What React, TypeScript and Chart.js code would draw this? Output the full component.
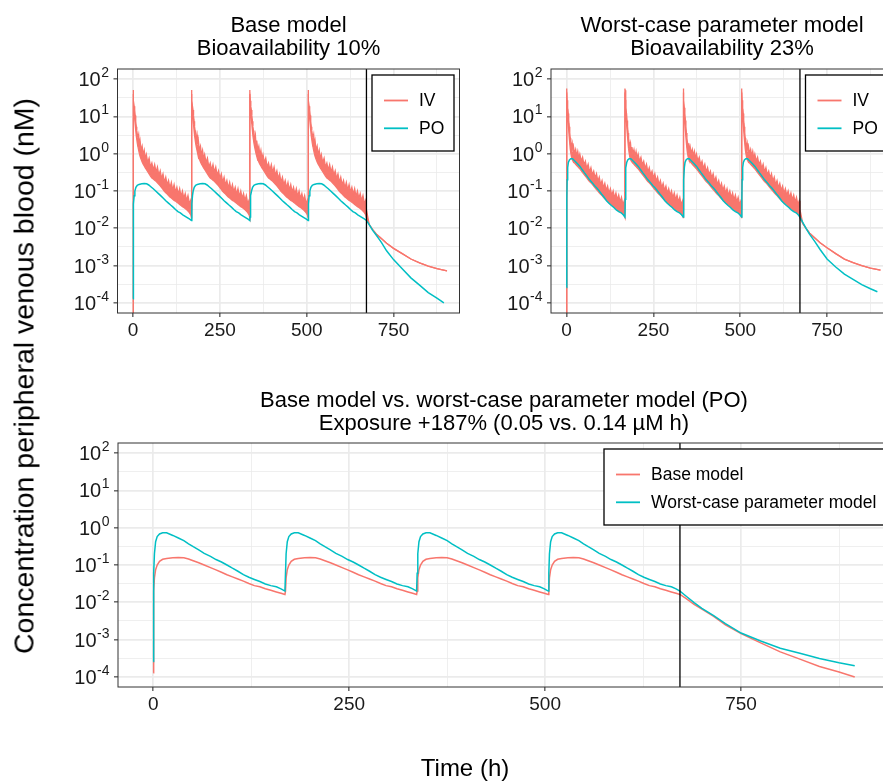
import React, { useEffect, useRef } from "react";
import { Chart, registerables } from "chart.js";

Chart.register(...registerables);

const FONT = '"Liberation Sans", Arial, Helvetica, sans-serif';
const IV_COLOR = "#F8766D";
const PO_COLOR = "#00BFC4";
const GRID_COLOR = "#EBEBEB";

// ---------------- data ----------------
const doseTimes = [0, 168, 336, 504];
const stopTime = 672;
const xMajorTicks = [0, 250, 500, 750];
const xMinorTicks = [125, 375, 625, 875];
const yMajorExponents = [-4, -3, -2, -1, 0, 1, 2];
const yMinorTicks = [0.000316, 0.00316, 0.0316, 0.316, 3.16, 31.6];

// PO (oral) profiles: first-dose start, then one dosing interval (hours after dose)
const poFirstHours = [0, 0.3];
const poBaseFirst = [0.00013, 0.004];
const poWorstFirst = [0.00026, 0.01];
const poWeekHours = [0.7, 1.5, 3, 5, 8, 12, 17, 25, 32, 39, 45, 51, 58, 65, 73, 80, 87, 94, 101, 108, 115, 122, 129, 136, 143, 150, 157, 163, 168];
const poBaseWeek = [0.02, 0.045, 0.075, 0.1, 0.125, 0.142, 0.15, 0.156, 0.158, 0.156, 0.145, 0.13, 0.115, 0.1, 0.085, 0.074, 0.064, 0.055, 0.048, 0.042, 0.037, 0.032, 0.028, 0.026, 0.023, 0.021, 0.019, 0.0175, 0.0162];
const poWorstWeek = [0.06, 0.2, 0.42, 0.58, 0.68, 0.73, 0.73, 0.62, 0.53, 0.45, 0.37, 0.31, 0.255, 0.205, 0.17, 0.14, 0.12, 0.1, 0.082, 0.068, 0.055, 0.047, 0.041, 0.036, 0.031, 0.028, 0.026, 0.023, 0.02];
const poTailHours = [680, 690, 700, 715, 730, 750, 775, 800, 825, 850, 875, 895];
const poBaseTail = [0.0125, 0.0088, 0.0066, 0.0042, 0.0025, 0.00145, 0.00082, 0.00047, 0.0003, 0.00019, 0.000135, 0.0001];
const poWorstTail = [0.0145, 0.0098, 0.0069, 0.0044, 0.0027, 0.0015, 0.00092, 0.00059, 0.00043, 0.00031, 0.00024, 0.0002];

// IV profiles: band (upper / lower edge) within one dosing interval
const ivFirstHours = [0];
const ivFirst = [0.00001];
const ivWeekHours = [0, 0.5, 1.5, 3, 4.5, 6, 7.5, 9, 10.5, 12, 14, 16, 18, 20, 23, 26, 29, 32, 35, 38, 42, 46, 50, 54, 58, 62, 66, 70, 74, 78, 82, 86, 90, 94, 98, 102, 106, 110, 114, 118, 122, 126, 130, 134, 138, 142, 146, 150, 154, 158, 162, 166, 167.9];
const ivBaseUpper = [51, 47, 26.3, 18.6, 14.8, 10.5, 7.41, 5.25, 4.17, 3.31,
  2.63, 3.24, 1.74, 2.24, 1.23, 1.585, 0.912, 1.23, 0.724, 0.955,
  0.575, 0.759, 0.437, 0.562, 0.363, 0.513, 0.316, 0.437, 0.263, 0.347,
  0.214, 0.288, 0.17, 0.234, 0.145, 0.191, 0.12, 0.17, 0.105, 0.148,
  0.0933, 0.126, 0.0813, 0.115, 0.0708, 0.1, 0.0631, 0.0851, 0.055, 0.0759,
  0.0457, 0.0575, 0.0316];
const ivBaseLower = [39.8, 26.9, 15.1, 10.7, 8.51, 6.03, 4.27, 3.02, 2.4, 1.91,
  1.51, 1.23, 1.0, 0.851, 0.708, 0.603, 0.525, 0.468, 0.417, 0.38,
  0.331, 0.288, 0.251, 0.224, 0.209, 0.195, 0.182, 0.166, 0.151, 0.138,
  0.123, 0.11, 0.0977, 0.0891, 0.0832, 0.0759, 0.0692, 0.0646, 0.0603, 0.0562,
  0.0537, 0.0501, 0.0468, 0.0437, 0.0407, 0.038, 0.0363, 0.0339, 0.0316, 0.0288,
  0.0263, 0.0229, 0.0191];
const ivWorstUpper = [56, 50, 27, 17, 12, 7.8, 5.3, 3.6, 2.6, 2.0,
  1.55, 1.9, 1.15, 1.5, 1.0, 1.3, 0.86, 1.15, 0.75, 0.98,
  0.63, 0.8, 0.5, 0.63, 0.4, 0.52, 0.32, 0.42, 0.27, 0.34,
  0.22, 0.29, 0.18, 0.235, 0.148, 0.19, 0.122, 0.16, 0.103, 0.135,
  0.086, 0.115, 0.076, 0.1, 0.065, 0.088, 0.058, 0.078, 0.05, 0.068,
  0.043, 0.055, 0.032];
const ivWorstLower = [44, 28, 15.5, 9.5, 6.5, 4.2, 2.8, 1.9, 1.35, 1.05,
  0.82, 0.7, 0.64, 0.6, 0.56, 0.52, 0.48, 0.45, 0.42, 0.39,
  0.35, 0.31, 0.28, 0.25, 0.225, 0.2, 0.18, 0.165, 0.15, 0.135,
  0.122, 0.11, 0.1, 0.09, 0.082, 0.075, 0.068, 0.062, 0.057, 0.052,
  0.048, 0.045, 0.042, 0.039, 0.036, 0.034, 0.032, 0.03, 0.028, 0.026,
  0.024, 0.022, 0.0195];
const ivTailHours = [680, 690, 700, 715, 730, 750, 775, 800, 825, 850, 875, 904];
const ivBaseTail = [0.0125, 0.0092, 0.0071, 0.0053, 0.004, 0.0029, 0.0021, 0.0015, 0.00118, 0.00097, 0.00083, 0.00072];
const ivWorstTail = [0.0135, 0.0098, 0.0074, 0.0055, 0.0041, 0.003, 0.0021, 0.0015, 0.0012, 0.001, 0.00086, 0.00076];

// ---------------- helpers ----------------
type Pt = { x: number; y: number };
function buildSeries(firstH: number[], firstV: number[], weekH: number[], weekV: number[], tailH: number[], tailV: number[]): Pt[] {
  const pts: Pt[] = firstH.map((h, i) => ({ x: h, y: firstV[i] }));
  doseTimes.forEach((d) => weekH.forEach((h, i) => pts.push({ x: d + h, y: weekV[i] })));
  tailH.forEach((h, i) => pts.push({ x: h, y: tailV[i] }));
  return pts;
}

const isMajorY = (v: number) => Math.abs(Math.log10(v) - Math.round(Math.log10(v))) < 0.01;

type LegendItem = { label: string; color: string };
type PanelCfg = {
  padding: { left: number; right: number; top: number; bottom: number };
  titles: string[];
  titleBaselines: number[];
  legend: { items: LegendItem[]; width: number; height: number; inset: number };
  datasets: any[];
};

function makeDecor(cfg: PanelCfg) {
  return {
    id: "decor",
    afterDatasetsDraw(chart: any) {
      const { ctx, chartArea: a, scales } = chart;
      const x = scales.x.getPixelForValue(stopTime);
      ctx.save();
      ctx.strokeStyle = "#000000";
      ctx.lineWidth = 1.3;
      ctx.beginPath();
      ctx.moveTo(x, a.top);
      ctx.lineTo(x, a.bottom);
      ctx.stroke();
      ctx.restore();
    },
    afterDraw(chart: any) {
      const { ctx, chartArea: a, scales } = chart;
      ctx.save();
      // panel border
      ctx.strokeStyle = "#333333";
      ctx.lineWidth = 1;
      ctx.strokeRect(a.left, a.top, a.right - a.left, a.bottom - a.top);
      // y tick labels 10^n
      const right = a.left - 8.5;
      ctx.fillStyle = "#1a1a1a";
      ctx.textBaseline = "alphabetic";
      yMajorExponents.forEach((e) => {
        const y = scales.y.getPixelForValue(Math.pow(10, e));
        const ex = String(e);
        ctx.font = `14px ${FONT}`;
        const we = ctx.measureText(ex).width;
        ctx.textAlign = "left";
        ctx.fillText(ex, right - we, y - 2);
        ctx.font = `20px ${FONT}`;
        ctx.textAlign = "right";
        ctx.fillText("10", right - we - 0.5, y + 7);
      });
      // title
      ctx.fillStyle = "#000000";
      ctx.font = `22px ${FONT}`;
      ctx.textAlign = "center";
      const cx = (a.left + a.right) / 2;
      cfg.titles.forEach((t, i) => ctx.fillText(t, cx, cfg.titleBaselines[i]));
      // legend
      const L = cfg.legend;
      const bx = a.right - L.inset - L.width;
      const by = a.top + 6;
      ctx.fillStyle = "#ffffff";
      ctx.fillRect(bx, by, L.width, L.height);
      ctx.strokeStyle = "#000000";
      ctx.lineWidth = 1.3;
      ctx.strokeRect(bx, by, L.width, L.height);
      ctx.font = `17.5px ${FONT}`;
      ctx.textAlign = "left";
      ctx.textBaseline = "middle";
      L.items.forEach((it, i) => {
        const yy = by + 25.5 + i * 27.8;
        ctx.strokeStyle = it.color;
        ctx.lineWidth = 1.8;
        ctx.beginPath();
        ctx.moveTo(bx + 12, yy);
        ctx.lineTo(bx + 36, yy);
        ctx.stroke();
        ctx.fillStyle = "#000000";
        ctx.fillText(it.label, bx + 47, yy + 1);
      });
      ctx.restore();
    },
  };
}

function buildChart(canvas: HTMLCanvasElement, cfg: PanelCfg) {
  return new Chart(canvas, {
    type: "line",
    data: { datasets: cfg.datasets },
    plugins: [makeDecor(cfg)],
    options: {
      responsive: false,
      animation: false,
      events: [],
      layout: { padding: cfg.padding, autoPadding: false },
      elements: { point: { radius: 0 }, line: { tension: 0 } },
      plugins: { legend: { display: false }, title: { display: false }, tooltip: { enabled: false } },
      scales: {
        x: {
          type: "linear",
          min: -45,
          max: 940,
          afterBuildTicks: (s: any) => {
            s.ticks = [...xMajorTicks, ...xMinorTicks].sort((p, q) => p - q).map((v) => ({ value: v }));
          },
          afterFit: (s: any) => {
            s.height = 40;
          },
          ticks: {
            autoSkip: false,
            maxRotation: 0,
            padding: 2,
            color: "#1a1a1a",
            font: { family: FONT, size: 19 },
            callback: (v: any) => (xMajorTicks.includes(Number(v)) ? String(v) : ""),
          },
          grid: {
            color: GRID_COLOR,
            lineWidth: (c: any) => (c.tick && xMajorTicks.includes(c.tick.value) ? 1.7 : 0.8),
            tickLength: 4,
            tickWidth: 1.1,
            tickColor: (c: any) => (c.tick && xMajorTicks.includes(c.tick.value) ? "#333333" : "rgba(0,0,0,0)"),
          },
          border: { display: false },
        },
        y: {
          type: "logarithmic",
          min: Math.pow(10, -4.27),
          max: Math.pow(10, 2.27),
          afterBuildTicks: (s: any) => {
            const vals = [...yMajorExponents.map((e) => Math.pow(10, e)), ...yMinorTicks].sort((p, q) => p - q);
            s.ticks = vals.map((v) => ({ value: v }));
          },
          afterFit: (s: any) => {
            s.width = 12;
          },
          ticks: { display: false },
          grid: {
            color: GRID_COLOR,
            lineWidth: (c: any) => (c.tick && isMajorY(c.tick.value) ? 1.7 : 0.8),
            tickLength: 4,
            tickWidth: 1.1,
            tickColor: (c: any) => (c.tick && isMajorY(c.tick.value) ? "#333333" : "rgba(0,0,0,0)"),
          },
          border: { display: false },
        },
      },
    } as any,
  });
}

function lineDs(label: string, data: Pt[], color: string, order: number, extra: any = {}) {
  return { label, data, borderColor: color, backgroundColor: color, borderWidth: 1.5, fill: false, order, pointRadius: 0, ...extra };
}

function ivPoDatasets(upper: number[], lower: number[], ivTail: number[], poFirst: number[], poWeek: number[], poTail: number[]) {
  return [
    lineDs("PO", buildSeries(poFirstHours, poFirst, poWeekHours, poWeek, poTailHours, poTail), PO_COLOR, 0),
    lineDs("IV", buildSeries(ivFirstHours, ivFirst, ivWeekHours, upper, ivTailHours, ivTail), IV_COLOR, 1, { borderWidth: 1.3 }),
    lineDs("IV lower", buildSeries(ivFirstHours, ivFirst, ivWeekHours, lower, ivTailHours, ivTail), IV_COLOR, 1, { borderWidth: 1.3, fill: "-1" }),
  ];
}

const CANVAS_W = 900;
const CANVAS_H = 781;

export default function App() {
  const r1 = useRef<HTMLCanvasElement>(null);
  const r2 = useRef<HTMLCanvasElement>(null);
  const r3 = useRef<HTMLCanvasElement>(null);

  useEffect(() => {
    const topBottomPad = CANVAS_H - 313 - 40;
    const legendIvPo = { items: [{ label: "IV", color: IV_COLOR }, { label: "PO", color: PO_COLOR }], width: 82, height: 76, inset: 5.5 };
    const c1 = buildChart(r1.current!, {
      padding: { left: 117.5 - 12, right: CANVAS_W - 459.5, top: 69, bottom: topBottomPad },
      titles: ["Base model", "Bioavailability 10%"],
      titleBaselines: [32.3, 55.3],
      legend: legendIvPo,
      datasets: ivPoDatasets(ivBaseUpper, ivBaseLower, ivBaseTail, poBaseFirst, poBaseWeek, poBaseTail),
    });
    const c2 = buildChart(r2.current!, {
      padding: { left: 551 - 12, right: CANVAS_W - 893, top: 69, bottom: topBottomPad },
      titles: ["Worst-case parameter model", "Bioavailability 23%"],
      titleBaselines: [32.3, 55.3],
      legend: legendIvPo,
      datasets: ivPoDatasets(ivWorstUpper, ivWorstLower, ivWorstTail, poWorstFirst, poWorstWeek, poWorstTail),
    });
    const c3 = buildChart(r3.current!, {
      padding: { left: 118 - 12, right: CANVAS_W - 890, top: 443, bottom: CANVAS_H - 687 - 40 },
      titles: ["Base model vs. worst-case parameter model (PO)", "Exposure +187% (0.05 vs. 0.14 µM h)"],
      titleBaselines: [406.7, 430],
      legend: { items: [{ label: "Base model", color: IV_COLOR }, { label: "Worst-case parameter model", color: PO_COLOR }], width: 281, height: 76, inset: 5 },
      datasets: [
        lineDs("Worst-case parameter model", buildSeries(poFirstHours, poWorstFirst, poWeekHours, poWorstWeek, poTailHours, poWorstTail), PO_COLOR, 0),
        lineDs("Base model", buildSeries(poFirstHours, poBaseFirst, poWeekHours, poBaseWeek, poTailHours, poBaseTail), IV_COLOR, 1),
      ],
    });
    return () => {
      c1.destroy();
      c2.destroy();
      c3.destroy();
    };
  }, []);

  const canvasStyle: React.CSSProperties = { position: "absolute", left: 0, top: 0 };
  return (
    <div style={{ position: "absolute", left: 0, top: 0, width: 883, height: 781, overflow: "hidden", background: "#ffffff", fontFamily: FONT }}>
      <canvas ref={r1} width={CANVAS_W} height={CANVAS_H} style={canvasStyle} />
      <canvas ref={r2} width={CANVAS_W} height={CANVAS_H} style={canvasStyle} />
      <canvas ref={r3} width={CANVAS_W} height={CANVAS_H} style={canvasStyle} />
      <div
        style={{
          position: "absolute",
          left: 24,
          top: 376,
          transform: "translate(-50%, -50%) rotate(-90deg)",
          whiteSpace: "nowrap",
          fontSize: 28.5,
          color: "#000",
        }}
      >
        Concentration peripheral venous blood (nM)
      </div>
      <div
        style={{
          position: "absolute",
          left: 465,
          top: 768,
          transform: "translate(-50%, -50%)",
          whiteSpace: "nowrap",
          fontSize: 24,
          color: "#000",
        }}
      >
        Time (h)
      </div>
    </div>
  );
}
